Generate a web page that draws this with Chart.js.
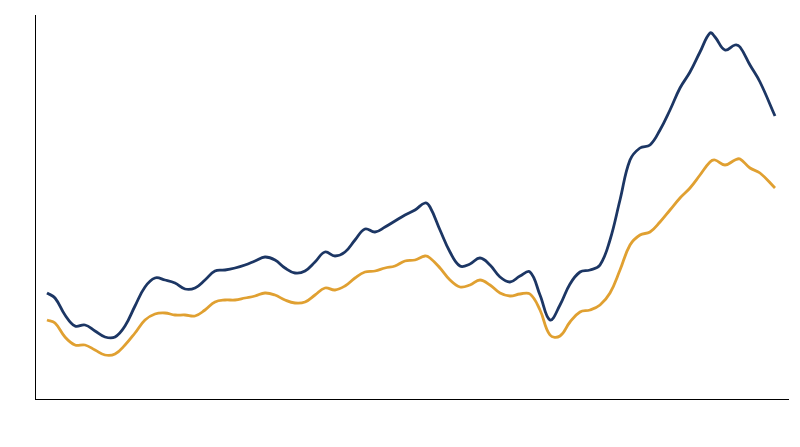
<!DOCTYPE html><html><head><meta charset="utf-8">
<script src="https://cdn.jsdelivr.net/npm/chart.js@4"></script>
<style>html,body{margin:0;background:#fff}#w{width:800px;height:447px}</style></head><body><div id="w"><canvas id="c"></canvas></div>
<script>
const xs=[47,55,65,75,85,95,105,115,125,135,145,155,165,175,185,195,205,215,225,235,245,255,265,275,285,295,305,315,325,335,345,355,365,375,385,395,405,415,425,430,440,450,460,470,480,490,500,510,520,530,540,550,560,570,580,590,600,610,620,630,640,650,660,670,680,690,700,710,715,725,735,740,750,760,775];
const bluePx=[293,298,315,326,325,331,337,337,326,306,287,278,280,283,289,288,280,271,270,268,265,261,257,260,268,273,271,262,252,256,252,240,229,232,227,221,215,210,203,207,230,252,266,264,258,265,277,282,276,272,295,320,305,284,272,270,265,240,200,160,148,145,130,110,88,72,52,33,37,50,45,47,65,82,116];
const orangePx=[320,323,337,345,345,350,355,354,345,333,320,314,313,315,315,316,310,302,300,300,298,296,293,295,300,303,302,295,288,290,286,278,272,271,268,266,261,260,256,258,268,280,287,285,280,285,293,296,294,294,310,335,336,322,312,310,305,293,270,245,235,232,222,210,198,188,175,162,160,165,160,159,168,173,188];
const blue=bluePx.map(v=>399-v), orange=orangePx.map(v=>399-v);
const pts=a=>a.map((y,i)=>({x:xs[i],y}));
new Chart(document.getElementById('c'),{type:'line',data:{datasets:[
{data:pts(blue),borderColor:'#1c3664',borderWidth:2.8,pointRadius:0,tension:0.4,fill:false},
{data:pts(orange),borderColor:'#e0a031',borderWidth:2.8,pointRadius:0,tension:0.4,fill:false}]},
options:{responsive:true,maintainAspectRatio:false,animation:false,layout:{padding:{left:27,right:12,top:15,bottom:40}},
plugins:{legend:{display:false},tooltip:{enabled:false}},
scales:{x:{type:'linear',min:35,max:788,ticks:{display:false},grid:{display:false},border:{display:true,color:'#000',width:1}},
y:{min:0,max:384,ticks:{display:false},grid:{display:false},border:{display:true,color:'#000',width:1}}}}});
</script></body></html>
